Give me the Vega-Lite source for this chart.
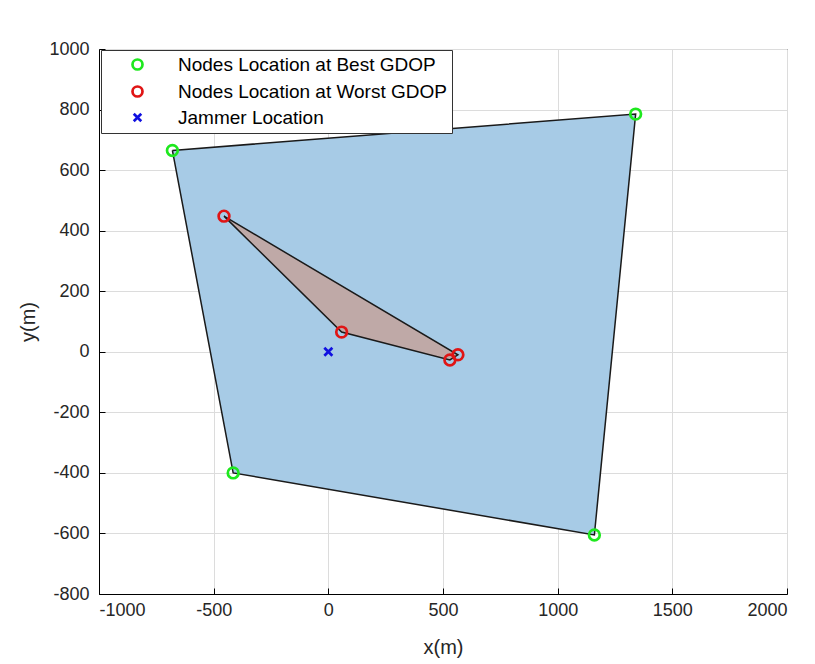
{
  "$schema": "https://vega.github.io/schema/vega-lite/v6.json",
  "width": 688,
  "height": 545,
  "padding": {"left": 18, "top": 40, "right": 18, "bottom": 5},
  "background": "white",
  "config": {
    "font": "Liberation Sans",
    "view": {"stroke": "black", "strokeWidth": 1},
    "axis": {
      "labelFont": "Liberation Sans",
      "labelFontSize": 18,
      "labelColor": "#262626",
      "titleFont": "Liberation Sans",
      "titleFontSize": 20,
      "titleFontWeight": "normal",
      "titleColor": "#262626",
      "domainColor": "black",
      "tickColor": "black",
      "gridColor": "#dcdcdc",
      "gridOpacity": 1,
      "tickSize": -6,
      "labelExpr": "'' + datum.value"
    }
  },
  "datasets": {
    "polys": [
      {"poly": "best", "ord": 1, "x": -680, "y": 665},
      {"poly": "best", "ord": 2, "x": 1340, "y": 785},
      {"poly": "best", "ord": 3, "x": 1160, "y": -605},
      {"poly": "best", "ord": 4, "x": -415, "y": -400},
      {"poly": "best", "ord": 5, "x": -680, "y": 665},
      {"poly": "worst", "ord": 1, "x": -455, "y": 448},
      {"poly": "worst", "ord": 2, "x": 565, "y": -10},
      {"poly": "worst", "ord": 3, "x": 530, "y": -27},
      {"poly": "worst", "ord": 4, "x": 58, "y": 65},
      {"poly": "worst", "ord": 5, "x": -455, "y": 448}
    ],
    "points": [
      {"series": "Nodes Location at Best GDOP", "x": -680, "y": 665},
      {"series": "Nodes Location at Best GDOP", "x": 1340, "y": 785},
      {"series": "Nodes Location at Best GDOP", "x": 1160, "y": -605},
      {"series": "Nodes Location at Best GDOP", "x": -415, "y": -400},
      {"series": "Nodes Location at Worst GDOP", "x": -455, "y": 448},
      {"series": "Nodes Location at Worst GDOP", "x": 565, "y": -10},
      {"series": "Nodes Location at Worst GDOP", "x": 530, "y": -27},
      {"series": "Nodes Location at Worst GDOP", "x": 58, "y": 65},
      {"series": "Jammer Location", "x": 0, "y": 0}
    ]
  },
  "layer": [
    {
      "data": {"name": "polys"},
      "transform": [{"filter": "datum.poly === 'best'"}],
      "mark": {"type": "line", "fill": "#a7cbe6", "stroke": "#1a1a1a", "strokeWidth": 1.5},
      "encoding": {
        "x": {"field": "x", "type": "quantitative", "scale": {"domain": [-1000, 2000], "nice": false},
              "axis": {"title": "x(m)", "values": [-1000, -500, 0, 500, 1000, 1500, 2000], "labelPadding": 13, "titlePadding": 18}},
        "y": {"field": "y", "type": "quantitative", "scale": {"domain": [-800, 1000], "nice": false},
              "axis": {"title": "y(m)", "values": [-800, -600, -400, -200, 0, 200, 400, 600, 800, 1000], "labelPadding": 16, "titlePadding": 10}},
        "order": {"field": "ord", "type": "quantitative"}
      }
    },
    {
      "data": {"name": "polys"},
      "transform": [{"filter": "datum.poly === 'worst'"}],
      "mark": {"type": "line", "fill": "#bfa9a7", "stroke": "#1a1a1a", "strokeWidth": 1.5},
      "encoding": {
        "x": {"field": "x", "type": "quantitative"},
        "y": {"field": "y", "type": "quantitative"},
        "order": {"field": "ord", "type": "quantitative"}
      }
    },
    {
      "data": {"name": "points"},
      "mark": {"type": "point", "filled": false, "strokeWidth": 2.7, "size": 115, "opacity": 1},
      "encoding": {
        "x": {"field": "x", "type": "quantitative"},
        "y": {"field": "y", "type": "quantitative"},
        "color": {
          "field": "series", "type": "nominal",
          "scale": {
            "domain": ["Nodes Location at Best GDOP", "Nodes Location at Worst GDOP", "Jammer Location"],
            "range": ["#1ee81e", "#e01515", "#1010e0"]
          },
          "legend": {
            "title": null,
            "orient": "none",
            "legendX": 2,
            "legendY": 1,
            "strokeColor": "#333333",
            "fillColor": "white",
            "padding": 5,
            "labelFont": "Liberation Sans",
            "labelFontSize": 19,
            "labelColor": "black",
            "symbolStrokeWidth": 2.7,
            "symbolSize": 100,
            "symbolOffset": 22,
            "labelOffset": 31,
            "rowPadding": 6,
            "labelLimit": 400
          }
        },
        "shape": {
          "field": "series", "type": "nominal",
          "scale": {
            "domain": ["Nodes Location at Best GDOP", "Nodes Location at Worst GDOP", "Jammer Location"],
            "range": ["circle", "circle", "M-0.75,-0.75L0.75,0.75M0.75,-0.75L-0.75,0.75"]
          },
          "legend": null
        }
      }
    }
  ]
}
